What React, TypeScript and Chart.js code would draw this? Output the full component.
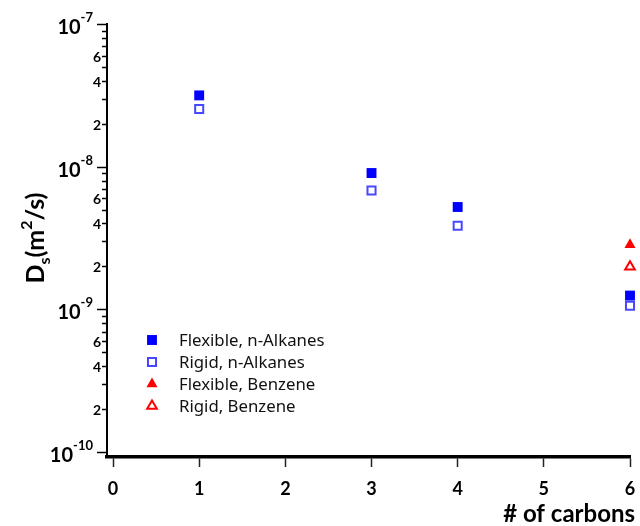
import React, { useEffect, useRef } from "react";
import { Chart, registerables } from "chart.js";

Chart.register(...registerables);

// ---- data ----
const carbonsAlkanes = [1, 3, 4, 6];
const flexibleAlkanes = [3.16e-8, 9.03e-9, 5.22e-9, 1.25e-9];
const rigidAlkanes = [2.54e-8, 6.82e-9, 3.86e-9, 1.06e-9];
const carbonsBenzene = [6];
const flexibleBenzene = [2.84e-9];
const rigidBenzene = [1.99e-9];

const seriesNames = [
  "Flexible, n-Alkanes",
  "Rigid, n-Alkanes",
  "Flexible, Benzene",
  "Rigid, Benzene",
];

const xTicks = [0, 1, 2, 3, 4, 5, 6];
const yDecadeExponents = [-7, -8, -9, -10];
const yMinorMultipliers = [2, 3, 4, 5, 6, 7, 8, 9];
const yMinorLabeled = [2, 4, 6];
const xTitle = "# of carbons";

const BLUE = "#0000ff";
const BLUE_LINE = "rgba(0,0,255,0.72)";
const RED = "#ff0000";

type MarkerSpec = {
  style: "rect" | "triangle";
  fill: string;
  stroke: string;
  width: number;
  radius: number;
};

const markerSpecs: MarkerSpec[] = [
  { style: "rect", fill: BLUE, stroke: BLUE, width: 0, radius: 7 },
  { style: "rect", fill: "#ffffff", stroke: BLUE_LINE, width: 2, radius: 5.7 },
  { style: "triangle", fill: RED, stroke: RED, width: 0, radius: 6.4 },
  { style: "triangle", fill: "#ffffff", stroke: RED, width: 2, radius: 5.6 },
];

function drawMarker(ctx: CanvasRenderingContext2D, m: MarkerSpec, x: number, y: number) {
  ctx.save();
  ctx.beginPath();
  if (m.style === "rect") {
    const s = Math.SQRT1_2 * m.radius;
    ctx.rect(x - s, y - s, 2 * s, 2 * s);
  } else {
    const r = m.radius;
    ctx.moveTo(x, y - r);
    ctx.lineTo(x + Math.sin((2 * Math.PI) / 3) * r, y + 0.5 * r);
    ctx.lineTo(x - Math.sin((2 * Math.PI) / 3) * r, y + 0.5 * r);
    ctx.closePath();
  }
  ctx.fillStyle = m.fill;
  ctx.fill();
  if (m.width > 0) {
    ctx.lineWidth = m.width;
    ctx.strokeStyle = m.stroke;
    ctx.stroke();
  }
  ctx.restore();
}

const decorPlugin = {
  id: "decor",
  afterDraw(chart: any) {
    const ctx: CanvasRenderingContext2D = chart.ctx;
    const ys = chart.scales.y;
    const left = chart.chartArea.left;
    const right = chart.chartArea.right;
    ctx.save();

    // y major ticks
    ctx.strokeStyle = "#000";
    ctx.lineWidth = 1.5;
    for (const e of yDecadeExponents) {
      const py = Math.round(ys.getPixelForValue(Math.pow(10, e))) + 0.5;
      ctx.beginPath();
      ctx.moveTo(left - 10, py);
      ctx.lineTo(left, py);
      ctx.stroke();
    }
    // y minor ticks + labels
    for (const e of yDecadeExponents) {
      if (e === -7) continue;
      for (const m of yMinorMultipliers) {
        const py = Math.round(ys.getPixelForValue(m * Math.pow(10, e))) + 0.5;
        ctx.beginPath();
        ctx.moveTo(left - 5, py);
        ctx.lineTo(left, py);
        ctx.stroke();
        if (yMinorLabeled.includes(m)) {
          ctx.fillStyle = "#000";
          ctx.font = "bold 14px Lato";
          ctx.textAlign = "right";
          ctx.textBaseline = "middle";
          ctx.fillText(String(m), left - 6, py + 1);
        }
      }
    }
    // decade labels
    for (const e of yDecadeExponents) {
      const py = ys.getPixelForValue(Math.pow(10, e));
      ctx.fillStyle = "#000";
      ctx.textBaseline = "alphabetic";
      ctx.textAlign = "left";
      ctx.font = "bold 20px Lato";
      const w10 = ctx.measureText("10").width;
      ctx.font = "bold 13px Lato";
      const exp = String(e);
      const wE = ctx.measureText(exp).width;
      const x0 = left - 14 - wE - w10;
      ctx.font = "bold 20px Lato";
      ctx.fillText("10", x0, py + 10);
      ctx.font = "bold 13px Lato";
      ctx.fillText(exp, x0 + w10, py - 2);
    }

    // y title: D_s(m^2/s)
    ctx.save();
    ctx.translate(44, 238);
    ctx.rotate(-Math.PI / 2);
    const big = "bold 25px Lato";
    const small = "bold 16px Lato";
    const parts: [string, string, number][] = [
      ["D", big, 0],
      ["s", small, 6],
      ["(m", big, 0],
      ["2", small, -12],
      ["/s)", big, 0],
    ];
    let total = 0;
    for (const [t, f] of parts) {
      ctx.font = f;
      total += ctx.measureText(t).width;
    }
    let cx = -total / 2;
    ctx.fillStyle = "#000";
    ctx.textAlign = "left";
    ctx.textBaseline = "alphabetic";
    for (const [t, f, dy] of parts) {
      ctx.font = f;
      ctx.fillText(t, cx, dy);
      cx += ctx.measureText(t).width;
    }
    ctx.restore();

    // x title
    ctx.font = "bold 24px Lato";
    ctx.textAlign = "right";
    ctx.textBaseline = "alphabetic";
    ctx.fillStyle = "#000";
    ctx.fillText(xTitle, right + 5, 522);

    // legend
    const rows = [340, 362, 384, 406];
    ctx.font = "16.8px 'Noto Sans'";
    ctx.textAlign = "left";
    ctx.textBaseline = "middle";
    seriesNames.forEach((name, i) => {
      drawMarker(ctx, markerSpecs[i], 152, rows[i]);
      ctx.fillStyle = "#111";
      ctx.fillText(name, 179, rows[i] + 1);
    });

    ctx.restore();
  },
};

function toPoints(xs: number[], ys: number[]) {
  return xs.map((x, i) => ({ x, y: ys[i] }));
}

export default function App() {
  const ref = useRef<HTMLCanvasElement | null>(null);
  useEffect(() => {
    if (!ref.current) return;
    const datasets = [
      toPoints(carbonsAlkanes, flexibleAlkanes),
      toPoints(carbonsAlkanes, rigidAlkanes),
      toPoints(carbonsBenzene, flexibleBenzene),
      toPoints(carbonsBenzene, rigidBenzene),
    ].map((data, i) => ({
      label: seriesNames[i],
      data,
      clip: false,
      pointStyle: markerSpecs[i].style,
      pointRadius: markerSpecs[i].radius,
      pointBackgroundColor: markerSpecs[i].fill,
      pointBorderColor: markerSpecs[i].stroke,
      pointBorderWidth: markerSpecs[i].width,
      showLine: false,
    }));
    const chart = new Chart(ref.current, {
      type: "scatter",
      data: { datasets },
      plugins: [decorPlugin],
      options: {
        animation: false,
        responsive: false,
        devicePixelRatio: 1,
        layout: { padding: { top: 24, right: 10, left: 0, bottom: 0 } },
        plugins: { legend: { display: false }, tooltip: { enabled: false } },
        scales: {
          x: {
            type: "linear",
            min: -0.07,
            max: 6,
            afterBuildTicks: (s: any) => {
              s.ticks = xTicks.map((v) => ({ value: v }));
            },
            afterFit: (s: any) => {
              s.height = 69;
              s.paddingLeft = 0;
              s.paddingRight = 0;
            },
            border: { display: true, color: "#000", width: 3.5 },
            grid: {
              display: true,
              drawOnChartArea: false,
              drawTicks: true,
              tickLength: 10,
              tickColor: "#222",
              tickWidth: 1.5,
            },
            ticks: {
              color: "#000",
              font: { family: "Lato", weight: "bold", size: 18 },
              padding: 11,
              maxRotation: 0,
              autoSkip: false,
            },
          },
          y: {
            type: "logarithmic",
            min: 0.924e-10,
            max: 1e-7,
            afterFit: (s: any) => {
              s.width = 107;
              s.paddingTop = 0;
              s.paddingBottom = 0;
            },
            border: { display: true, color: "#000", width: 2 },
            grid: { display: false },
            ticks: { display: false },
          },
        },
      } as any,
    });
    return () => chart.destroy();
  }, []);
  return (
    <div style={{ position: "absolute", left: 0, top: 0, width: 640, height: 526, background: "#fff" }}>
      <canvas ref={ref} width={640} height={526} style={{ display: "block" }} />
    </div>
  );
}
